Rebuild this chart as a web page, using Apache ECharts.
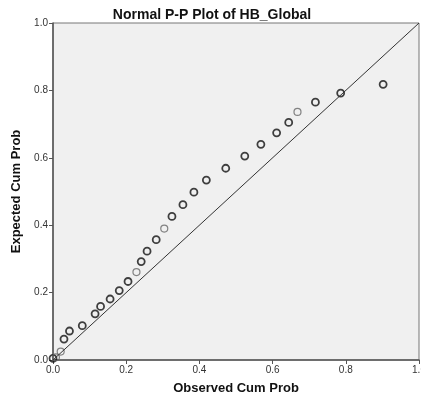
<!DOCTYPE html>
<html>
<head>
<meta charset="utf-8">
<script src="https://cdn.jsdelivr.net/npm/echarts@6/dist/echarts.min.js"></script>
<style>
  html, body { margin: 0; padding: 0; background: #fff; }
  #main { width: 421px; height: 400px; }
</style>
</head>
<body>
<div id="main"></div>
<script>
// observed / expected cumulative probabilities
var observedDark = [0.000, 0.030, 0.045, 0.080, 0.115, 0.130, 0.156, 0.181, 0.205, 0.241, 0.257, 0.282,
                    0.325, 0.355, 0.385, 0.419, 0.472, 0.524, 0.568, 0.611, 0.644, 0.717, 0.786, 0.902];
var expectedDark = [0.005, 0.062, 0.086, 0.102, 0.137, 0.159, 0.181, 0.206, 0.233, 0.292, 0.323, 0.357,
                    0.426, 0.461, 0.498, 0.534, 0.569, 0.605, 0.640, 0.674, 0.705, 0.765, 0.792, 0.818];
var observedLight = [0.008, 0.021, 0.228, 0.304, 0.668];
var expectedLight = [0.008, 0.025, 0.261, 0.390, 0.736];
var diagonal = [[0, 0], [1, 1]];

function pairs(xs, ys) {
    return xs.map(function (x, i) { return [x, ys[i]]; });
}

var myChart = echarts.init(document.getElementById('main'));
var option = {
    animation: false,
    backgroundColor: '#ffffff',
    textStyle: { fontFamily: 'Liberation Sans, Arial, sans-serif' },
    title: {
        text: 'Normal P-P Plot of HB_Global',
        left: 207,
        textAlign: 'center',
        top: 3,
        textStyle: { fontSize: 14, fontWeight: 'bold', color: '#111' }
    },
    grid: {
        left: 53,
        right: 2,
        top: 23,
        bottom: 40,
        containLabel: false,
        outerBoundsMode: 'none',
        show: true,
        backgroundColor: '#f0f0f0',
        borderColor: '#777',
        borderWidth: 1
    },
    xAxis: {
        type: 'value',
        min: 0, max: 1, interval: 0.2,
        name: 'Observed Cum Prob',
        nameLocation: 'middle',
        nameGap: 22,
        nameTextStyle: { fontSize: 13, fontWeight: 'bold', color: '#111' },
        axisLine: { show: true, onZero: false, lineStyle: { color: '#555', width: 1.5 } },
        axisTick: { show: true, length: 4, lineStyle: { color: '#555' } },
        axisLabel: { fontSize: 10, color: '#333', margin: 5, formatter: function (v) { return v.toFixed(1); } },
        splitLine: { show: false }
    },
    yAxis: {
        type: 'value',
        min: 0, max: 1, interval: 0.2,
        name: 'Expected Cum Prob',
        nameLocation: 'middle',
        nameGap: 30,
        nameTextStyle: { fontSize: 13, fontWeight: 'bold', color: '#111' },
        axisLine: { show: true, onZero: false, lineStyle: { color: '#555', width: 1.5 } },
        axisTick: { show: true, length: 4, lineStyle: { color: '#555' } },
        axisLabel: { fontSize: 10, color: '#333', margin: 5, formatter: function (v) { return v.toFixed(1); } },
        splitLine: { show: false }
    },
    series: [
        {
            type: 'line',
            data: diagonal,
            symbol: 'none',
            lineStyle: { color: '#333', width: 1 },
            silent: true
        },
        {
            type: 'scatter',
            data: pairs(observedDark, expectedDark),
            symbol: 'circle',
            symbolSize: 7,
            itemStyle: { color: 'rgba(0,0,0,0)', borderColor: '#111', borderWidth: 1.8 }
        },
        {
            type: 'scatter',
            data: pairs(observedLight, expectedLight),
            symbol: 'circle',
            symbolSize: 7,
            itemStyle: { color: 'rgba(0,0,0,0)', borderColor: '#666', borderWidth: 1.2 }
        }
    ]
};
myChart.setOption(option);
</script>
</body>
</html>
